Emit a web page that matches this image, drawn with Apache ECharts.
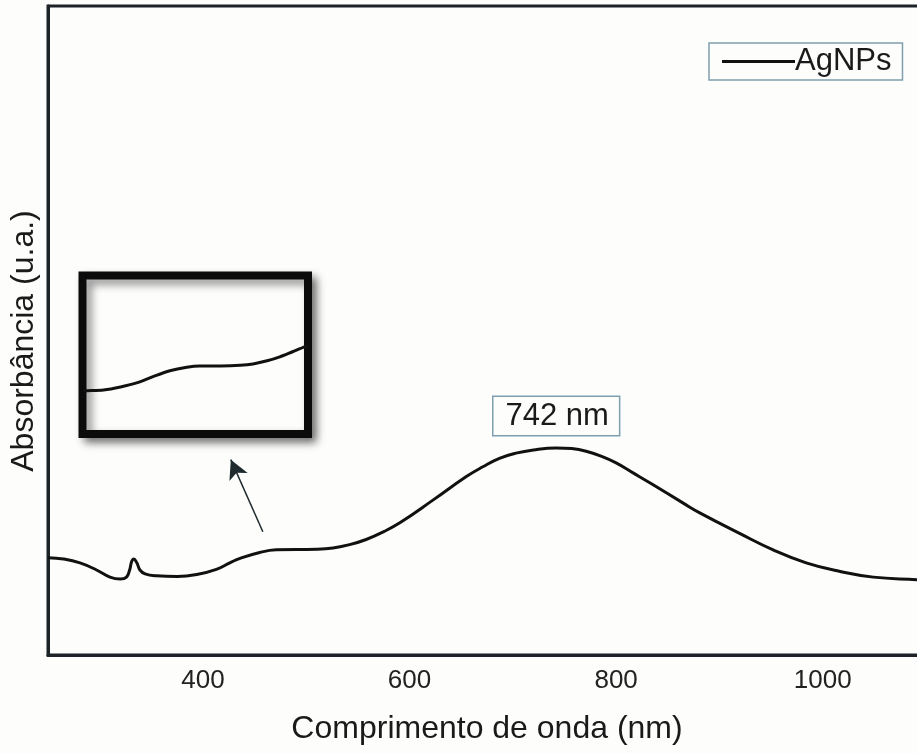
<!DOCTYPE html>
<html>
<head>
<meta charset="utf-8">
<title>AgNPs UV-Vis</title>
<script src="https://cdn.jsdelivr.net/npm/echarts@6/dist/echarts.min.js"></script>
<style>
  html, body { margin: 0; padding: 0; background: #fdfdfc; }
  #chart { width: 917px; height: 754px; }
</style>
</head>
<body>
<div id="chart"></div>
<script>
// UV-Vis absorption spectrum of silver nanoparticles (arbitrary units)
const wavelength = [250, 265, 281, 297, 310, 320, 326, 329, 331, 333, 336, 339, 344, 355, 375, 394,
  413, 426, 436, 455, 471, 510, 526, 542, 558, 575, 591, 623, 655, 671, 687, 703, 720, 742, 757,
  771, 786, 800, 816, 833, 865, 881, 920, 952, 984, 1016, 1049, 1091, 1100];
const absorbance = [0.150, 0.148, 0.142, 0.131, 0.120, 0.117, 0.120, 0.131, 0.144, 0.148, 0.142,
  0.131, 0.125, 0.122, 0.121, 0.124, 0.132, 0.142, 0.149, 0.158, 0.162, 0.163, 0.165, 0.170,
  0.178, 0.190, 0.204, 0.239, 0.275, 0.290, 0.303, 0.311, 0.316, 0.319, 0.318, 0.314, 0.306,
  0.296, 0.281, 0.265, 0.234, 0.219, 0.187, 0.162, 0.142, 0.129, 0.120, 0.116, 0.115];

// Magnified view of the shoulder around 450-550 nm
const insetWavelength = [400, 403, 415, 427, 439, 450, 462, 474, 483, 498, 512, 521, 531, 540, 549, 558, 560];
const insetAbsorbance = [0.272, 0.273, 0.278, 0.297, 0.324, 0.362, 0.399, 0.421, 0.429, 0.429,
  0.433, 0.442, 0.462, 0.487, 0.519, 0.551, 0.557];

const xTicks = [400, 600, 800, 1000];
const peakWavelength = 742;
const seriesName = 'AgNPs';

const mainData = wavelength.map((w, i) => [w, absorbance[i]]);
const insetData = insetWavelength.map((w, i) => [w, insetAbsorbance[i]]);
const peakValue = absorbance[wavelength.indexOf(peakWavelength)];

const font = 'Liberation Sans, Arial, Helvetica, sans-serif';
const frameColor = '#1d2326';
const boxColor = '#7d9fae';

const chart = echarts.init(document.getElementById('chart'), null, { renderer: 'canvas' });

chart.setOption({
  backgroundColor: '#fdfdfc',
  animation: false,
  legend: {
    data: [seriesName],
    left: 709,
    top: 43,
    padding: [3, 11, 3, 13],
    itemWidth: 73,
    itemHeight: 3,
    icon: 'rect',
    borderColor: boxColor,
    borderWidth: 1.5,
    backgroundColor: '#fdfdfc',
    itemStyle: { color: '#111' },
    textStyle: { fontFamily: font, fontSize: 31, color: '#1a1a1a', padding: [0, 0, 0, -5] }
  },
  grid: [
    {
      left: 48, top: 6, width: 878, height: 649,
      outerBoundsMode: 'none', containLabel: false,
      show: true, borderColor: frameColor, borderWidth: 3,
      backgroundColor: 'transparent'
    },
    {
      left: 82.5, top: 275.5, width: 225.5, height: 158.5,
      outerBoundsMode: 'none', containLabel: false,
      show: true, borderColor: '#0b0b0b', borderWidth: 8,
      backgroundColor: '#fdfdfc',
      shadowColor: 'rgba(0,0,0,0.45)', shadowBlur: 8, shadowOffsetX: 5, shadowOffsetY: 5
    }
  ],
  xAxis: [
    {
      gridIndex: 0, type: 'value', min: 250, max: 1100,
      name: 'Comprimento de onda (nm)', nameLocation: 'middle', nameGap: 58,
      nameTextStyle: { fontFamily: font, fontSize: 32, color: '#1a1a1a' },
      axisLine: { show: true, lineStyle: { color: frameColor, width: 3 } },
      axisTick: { show: false },
      splitLine: { show: false },
      axisLabel: {
        fontFamily: font, fontSize: 26, color: '#222', margin: 13,
        customValues: xTicks,
        formatter: (v) => String(v)
      }
    },
    {
      gridIndex: 1, type: 'value', min: 400, max: 560, show: false
    }
  ],
  yAxis: [
    {
      gridIndex: 0, type: 'value', min: 0, max: 1,
      name: 'Absorbância (u.a.)', nameLocation: 'middle', nameGap: 8,
      nameTextStyle: { fontFamily: font, fontSize: 32, color: '#1a1a1a', padding: [0, 21, 0, 0] },
      axisLine: { show: true, lineStyle: { color: frameColor, width: 3 } },
      axisTick: { show: false },
      axisLabel: { show: false },
      splitLine: { show: false }
    },
    {
      gridIndex: 1, type: 'value', min: 0, max: 1, show: false
    }
  ],
  series: [
    {
      name: seriesName,
      type: 'line',
      xAxisIndex: 0, yAxisIndex: 0,
      data: mainData,
      symbol: 'none',
      smooth: 0.45,
      lineStyle: { color: '#111', width: 3 },
      itemStyle: { color: '#111' },
      markPoint: {
        symbol: 'circle', symbolSize: 0,
        data: [{ coord: [peakWavelength, peakValue], value: peakWavelength }],
        label: {
          show: true, position: 'top', distance: 13,
          formatter: (p) => p.value + ' nm',
          fontFamily: font, fontSize: 31, color: '#1a1a1a',
          borderColor: boxColor, borderWidth: 1.5,
          backgroundColor: '#fdfdfc',
          padding: [4, 10, 3, 12]
        }
      },
      markLine: {
        silent: true,
        symbol: ['none', 'arrow'],
        symbolSize: [15, 19],
        label: { show: false },
        lineStyle: { type: 'solid', color: '#1f2a2e', width: 1.5 },
        data: [[{ coord: [458, 0.19] }, { coord: [427, 0.301] }]]
      }
    },
    {
      name: 'inset',
      type: 'line',
      xAxisIndex: 1, yAxisIndex: 1,
      data: insetData,
      symbol: 'none',
      smooth: 0.3,
      lineStyle: { color: '#111', width: 3 }
    }
  ]
});
</script>
</body>
</html>
